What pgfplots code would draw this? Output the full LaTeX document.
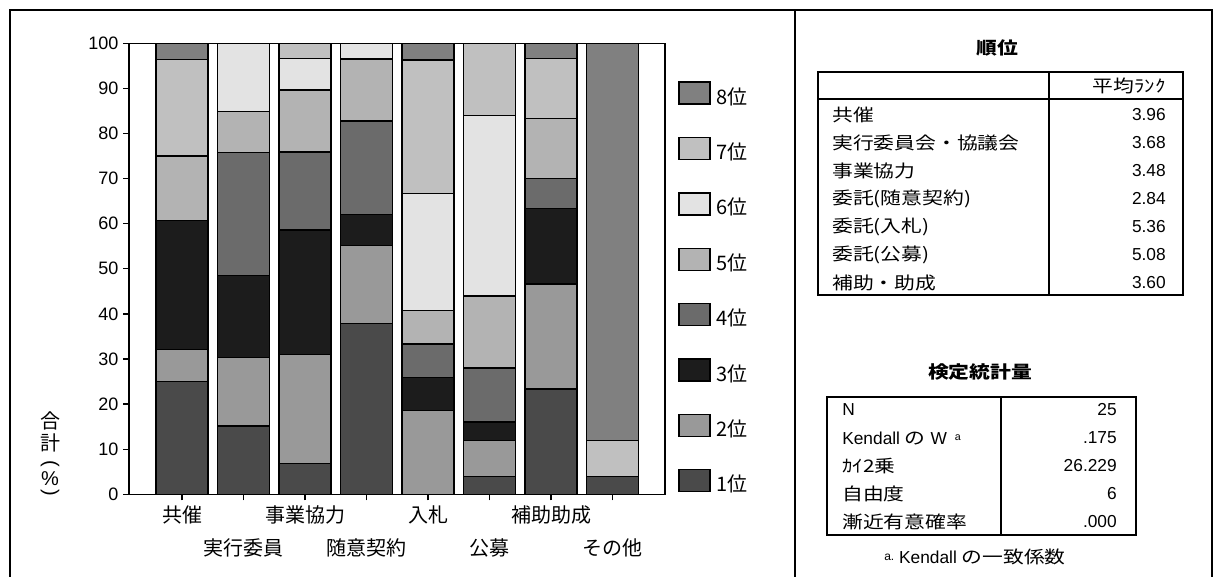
\documentclass[border=0pt]{standalone}
\usepackage{pgfplots}
\pgfplotsset{compat=1.18}
\usepackage{pgfplotstable}
\usepackage{fontspec}
\setmainfont{Liberation Sans}
\newfontfamily\jp{Noto Sans CJK JP}
\newfontfamily\jpt{Noto Sans CJK JP}[FakeStretch=1.2]

\definecolor{c1}{HTML}{4A4A4A}
\definecolor{c2}{HTML}{999999}
\definecolor{c3}{HTML}{1C1C1C}
\definecolor{c4}{HTML}{6B6B6B}
\definecolor{c5}{HTML}{B3B3B3}
\definecolor{c6}{HTML}{E3E3E3}
\definecolor{c7}{HTML}{C0C0C0}
\definecolor{c8}{HTML}{808080}

% share of respondents (%) giving each rank, per category
\pgfplotstableread{
x r1    r2    r3    r4    r5    r6    r7    r8
0 25.00 7.14  28.57 0     14.29 0     21.43 3.57
1 15.15 15.15 18.18 27.27 9.09  15.15 0     0
2 6.90  24.14 27.59 17.24 13.79 6.90  3.45  0
3 37.93 17.24 6.90  20.69 13.79 3.45  0     0
4 0     18.52 7.41  7.41  7.41  25.93 29.63 3.70
5 4.00  8.00  4.00  12.00 16.00 40.00 16.00 0
6 23.33 23.33 16.67 6.67  13.33 0     13.33 3.33
7 4.00  0     0     0     0     0     8.00  88.00
}\ranks

\newcommand{\jpfont}{\jp\fontsize{15}{18}\selectfont}
\newcommand{\tjp}{\jpt\fontsize{13}{15}\selectfont}
\newcommand{\tnum}{\fontsize{13}{15}\selectfont}

\begin{document}
\begin{tikzpicture}
\useasboundingbox (0,0) rectangle (912pt,432.75pt);

\begin{axis}[
  at={(96.75pt,62.025pt)}, anchor=south west,
  scale only axis, width=402pt, height=338.25pt,
  ybar stacked, bar width=39pt,
  xmin=-0.862, xmax=7.854, ymin=0, ymax=100,
  ytick={0,10,...,100},
  xtick={0,2,4,6},
  xticklabels={共催,事業協力,入札,補助助成},
  extra x ticks={1,3,5,7},
  extra x tick labels={実行委員,随意契約,公募,その他},
  extra x tick style={xticklabel style={yshift=-25pt}},
  tick align=outside, tick pos=left,
  major tick length=4.5pt,
  every tick/.append style={black, line width=1pt},
  axis line style={line width=1pt},
  /pgf/number format/assume math mode=true,
  yticklabel style={font=\fontsize{13.5}{16}\selectfont},
  xticklabel style={font=\jpfont, anchor=center, yshift=-11pt},
  legend style={at={(1.0243,0.916)}, anchor=north west, draw=none, fill=none,
    inner sep=0pt, row sep=23pt, column sep=4.5pt, font=\jpfont,
    nodes={inner sep=0pt}},
  legend cell align=left,
  reverse legend,
  every axis plot post/.append style={
    legend image code/.code={\draw[##1] (0pt,-5.5pt) rectangle (23.25pt,11pt);}},
]
\addplot[fill=c1, draw=black, line width=1pt] table[x=x, y=r1] {\ranks};
\addplot[fill=c2, draw=black, line width=1pt] table[x=x, y=r2] {\ranks};
\addplot[fill=c3, draw=black, line width=1pt] table[x=x, y=r3] {\ranks};
\addplot[fill=c4, draw=black, line width=1pt] table[x=x, y=r4] {\ranks};
\addplot[fill=c5, draw=black, line width=1pt] table[x=x, y=r5] {\ranks};
\addplot[fill=c6, draw=black, line width=1pt] table[x=x, y=r6] {\ranks};
\addplot[fill=c7, draw=black, line width=1pt] table[x=x, y=r7] {\ranks};
\addplot[fill=c8, draw=black, line width=1pt] table[x=x, y=r8] {\ranks};
\legend{1位,2位,3位,4位,5位,6位,7位,8位}
\end{axis}

% everything else in pixel units measured from the top-left corner
\begin{scope}[x=0.75pt, y=-0.75pt, yshift=432.75pt]
% outer frame and divider
\draw[line width=1.5pt] (10,578) -- (10,10) -- (1212,10) -- (1212,578);
\draw[line width=1.5pt] (795,10) -- (795,578);

% vertical axis title
\node[font=\jpfont, inner sep=0pt] at (50,421) {合};
\node[font=\jpfont, inner sep=0pt] at (50,443) {計};
\node[font=\fontsize{15}{18}\selectfont, inner sep=0pt, rotate=-90] at (50,464) {(};
\node[font=\fontsize{15}{18}\selectfont, inner sep=0pt] at (50,479) {\%};
\node[font=\fontsize{15}{18}\selectfont, inner sep=0pt, rotate=-90] at (50,493) {)};

% table: mean ranks
\node[font=\tjp\bfseries] at (997,48) {順位};
\draw[line width=2.2pt] (818,72) rectangle (1183,295);
\draw[line width=1.8pt] (1049,72) -- (1049,295);
\draw[line width=1.1pt] (818,99) -- (1183,99);
\node[anchor=east, inner sep=0pt, font=\tjp] at (1166,86) {平均ﾗﾝｸ};
\foreach \lab/\val [count=\i from 0] in {共催/3.96, 実行委員会・協議会/3.68, 事業協力/3.48,
    委託(随意契約)/2.84, 委託(入札)/5.36, 委託(公募)/5.08, 補助・助成/3.60} {
  \node[anchor=west, inner sep=0pt, font=\tjp] at (832,115+28*\i) {\lab};
  \node[anchor=east, inner sep=0pt, font=\tnum] at (1166,115+28*\i) {\val};
}

% table: test statistics
\node[font=\tjp\bfseries] at (980,372) {検定統計量};
\draw[line width=2.2pt] (827,397) rectangle (1136,535);
\draw[line width=1.8pt] (1001,397) -- (1001,535);
\node[anchor=west, inner sep=0pt, font=\tnum] at (842,410) {N};
\node[anchor=west, inner sep=0pt, font=\tnum] at (842,438) {Kendall {\tjp の} W\hspace{6pt}\raisebox{3pt}{\fontsize{8}{9}\selectfont a}};
\node[anchor=west, inner sep=0pt, font=\tjp] at (842,466) {ｶｲ2乗};
\node[anchor=west, inner sep=0pt, font=\tjp] at (842,494) {自由度};
\node[anchor=west, inner sep=0pt, font=\tjp] at (842,522) {漸近有意確率};
\node[anchor=east, inner sep=0pt, font=\tnum] at (1117,410) {25};
\node[anchor=east, inner sep=0pt, font=\tnum] at (1117,438) {.175};
\node[anchor=east, inner sep=0pt, font=\tnum] at (1117,466) {26.229};
\node[anchor=east, inner sep=0pt, font=\tnum] at (1117,494) {6};
\node[anchor=east, inner sep=0pt, font=\tnum] at (1117,522) {.000};
\node[font=\tnum] at (975,557) {\raisebox{2pt}{\fontsize{9}{10}\selectfont a.}\ Kendall {\tjp の一致係数}};
\end{scope}
\end{tikzpicture}
\end{document}
